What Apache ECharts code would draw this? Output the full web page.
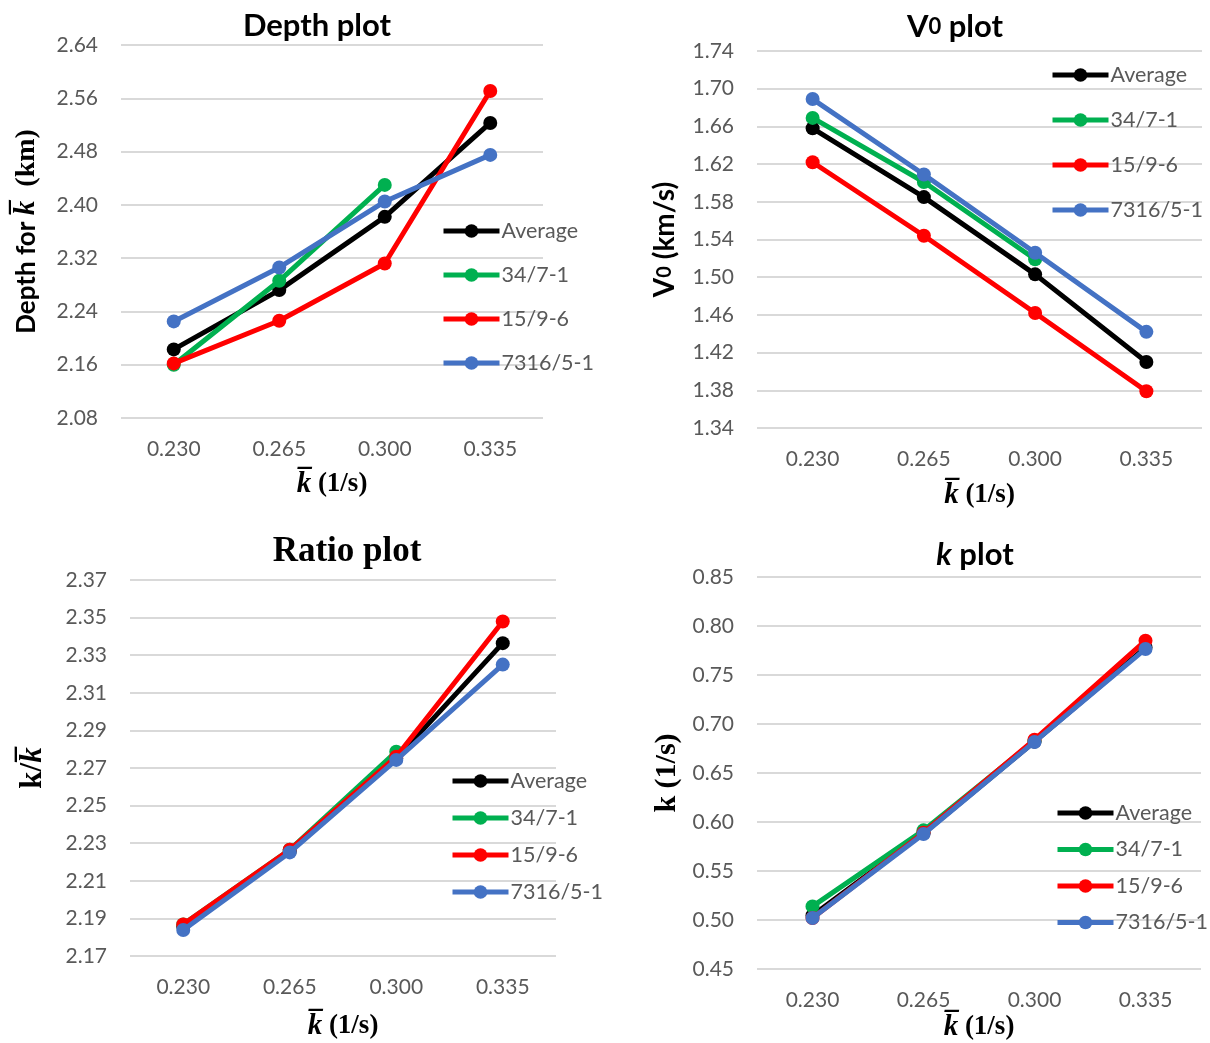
<!DOCTYPE html>
<html>
<head>
<meta charset="utf-8">
<script src="https://cdn.jsdelivr.net/npm/echarts@6/dist/echarts.min.js"></script>
<style>html,body{margin:0;padding:0;background:#fff}#c{width:1210px;height:1043px}</style>
</head>
<body>
<div id="c"></div>
<script>
const categories = ['0.230', '0.265', '0.300', '0.335'];
const seriesNames = ['Average', '34/7-1', '15/9-6', '7316/5-1'];
const seriesColors = ['#000000', '#00B050', '#FF0000', '#4472C4'];

const depthAverage = [2.183, 2.272, 2.382, 2.523];
const depth347 = [2.160, 2.286, 2.430, null];
const depth1596 = [2.162, 2.226, 2.312, 2.571];
const depth7316 = [2.225, 2.306, 2.405, 2.475];

const v0Average = [1.658, 1.585, 1.503, 1.410];
const v0347 = [1.669, 1.601, 1.519, null];
const v01596 = [1.622, 1.544, 1.462, 1.379];
const v07316 = [1.689, 1.609, 1.526, 1.442];

const ratioAverage = [2.1856, 2.2257, 2.2750, 2.3364];
const ratio347 = [2.1868, 2.2265, 2.2787, null];
const ratio1596 = [2.1868, 2.2265, 2.2760, 2.3479];
const ratio7316 = [2.1838, 2.2251, 2.2743, 2.3250];

const kAverage = [0.5047, 0.5885, 0.6820, 0.7780];
const k347 = [0.5139, 0.5915, 0.6830, null];
const k1596 = [0.5020, 0.5890, 0.6840, 0.7850];
const k7316 = [0.5020, 0.5878, 0.6817, 0.7766];

const depthTicks = {min: 2.08, max: 2.64, interval: 0.08};
const v0Ticks = {min: 1.34, max: 1.74, interval: 0.04};
const ratioTicks = {min: 2.17, max: 2.37, interval: 0.02};
const kTicks = {min: 0.45, max: 0.85, interval: 0.05};

const panels = [
  {data: [depthAverage, depth347, depth1596, depth7316], ticks: depthTicks,
   grid: {left: 121, top: 45, width: 422, height: 373}, legend: {left: 441, top: 220, itemGap: 22}},
  {data: [v0Average, v0347, v01596, v07316], ticks: v0Ticks,
   grid: {left: 757, top: 51, width: 445, height: 377}, legend: {left: 1050, top: 64, itemGap: 23}},
  {data: [ratioAverage, ratio347, ratio1596, ratio7316], ticks: ratioTicks,
   grid: {left: 130, top: 580, width: 426, height: 376}, legend: {left: 450, top: 770, itemGap: 15}},
  {data: [kAverage, k347, k1596, k7316], ticks: kTicks,
   grid: {left: 757, top: 577, width: 444, height: 393}, legend: {left: 1055, top: 802, itemGap: 14.5}}
];

const SANS = 'Lato, "Open Sans", sans-serif';
const SERIF = '"Liberation Serif", "DejaVu Serif", serif';
const KBAR = 'k\u0305';

const xNameRich = {
  k: {fontFamily: SERIF, fontWeight: 'bold', fontStyle: 'italic', fontSize: 29, color: '#000'},
  t: {fontFamily: SERIF, fontWeight: 'bold', fontSize: 27, color: '#000'}
};
const xName = '{k|' + KBAR + '}{t| (1/s)}';

const yNames = [
  {text: '{a|Depth for }{k|' + KBAR + '}{t|  (km)}', gap: 80, rich: {
    a: {fontFamily: SANS, fontWeight: 'bold', fontSize: 26, color: '#000'},
    k: {fontFamily: SERIF, fontWeight: 'bold', fontStyle: 'italic', fontSize: 29, color: '#000'},
    t: {fontFamily: SERIF, fontWeight: 'bold', fontSize: 28, color: '#000'}}},
  {text: '{a|V}{s|0}{a| (km/s)}', gap: 78, rich: {
    a: {fontFamily: SANS, fontWeight: 'bold', fontSize: 28, color: '#000'},
    s: {fontFamily: SANS, fontWeight: 'bold', fontSize: 20, color: '#000'}}},
  {text: '{t|k/}{k|' + KBAR + '}', gap: 82, rich: {
    t: {fontFamily: SERIF, fontWeight: 'bold', fontSize: 31, color: '#000'},
    k: {fontFamily: SERIF, fontWeight: 'bold', fontStyle: 'italic', fontSize: 31, color: '#000'}}},
  {text: '{t|k (1/s)}', gap: 75, rich: {
    t: {fontFamily: SERIF, fontWeight: 'bold', fontSize: 30, color: '#000'}}}
];
const xNameGaps = [52, 53, 56, 44];

const titles = [
  {text: 'Depth plot', left: 317, top: 10, textStyle: {fontFamily: SANS, fontWeight: 'bold', fontSize: 31, color: '#000'}},
  {text: '{a|V}{s|0}{a| plot}', left: 955, top: 11, textStyle: {rich: {
    a: {fontFamily: SANS, fontWeight: 'bold', fontSize: 31, color: '#000'},
    s: {fontFamily: SANS, fontWeight: 'bold', fontSize: 22, color: '#000'}}}},
  {text: 'Ratio plot', left: 347, top: 534, textStyle: {fontFamily: SERIF, fontWeight: 'bold', fontSize: 35, color: '#000'}},
  {text: '{i|k}{a| plot}', left: 975, top: 539, textStyle: {rich: {
    i: {fontFamily: SANS, fontWeight: 'bold', fontStyle: 'italic', fontSize: 31, color: '#000'},
    a: {fontFamily: SANS, fontWeight: 'bold', fontSize: 31, color: '#000'}}}}
];

const option = {
  animation: false,
  backgroundColor: '#ffffff',
  title: titles.map(t => Object.assign({textAlign: 'center', padding: 0}, t)),
  grid: panels.map(p => Object.assign({containLabel: false}, p.grid)),
  legend: panels.map(p => ({
    left: p.legend.left, top: p.legend.top, orient: 'vertical', itemGap: p.legend.itemGap,
    itemWidth: 56, itemHeight: 17, padding: 0,
    lineStyle: {width: 5},
    textStyle: {fontFamily: SANS, fontSize: 21.5, color: '#595959', padding: [0, 0, 0, -3]},
    data: seriesNames
  })),
  xAxis: panels.map((p, i) => ({
    type: 'category', gridIndex: i, data: categories, boundaryGap: true,
    axisLine: {show: false}, axisTick: {show: false},
    axisLabel: {fontFamily: SANS, fontSize: 21, color: '#595959', margin: 21},
    name: xName, nameLocation: 'middle', nameGap: xNameGaps[i],
    nameTextStyle: {rich: xNameRich}
  })),
  yAxis: panels.map((p, i) => ({
    type: 'value', gridIndex: i, min: p.ticks.min, max: p.ticks.max, interval: p.ticks.interval,
    axisLine: {show: false}, axisTick: {show: false},
    splitLine: {lineStyle: {color: '#D9D9D9', width: 2}},
    axisLabel: {fontFamily: SANS, fontSize: 21, color: '#595959', margin: 23,
      formatter: v => v.toFixed(2)},
    name: yNames[i].text, nameLocation: 'middle', nameGap: yNames[i].gap, nameRotate: 90,
    nameTextStyle: {rich: yNames[i].rich}
  })),
  series: []
};

panels.forEach((p, i) => {
  p.data.forEach((vals, j) => {
    option.series.push({
      type: 'line', name: seriesNames[j], xAxisIndex: i, yAxisIndex: i,
      data: vals, symbol: 'circle', symbolSize: 14, showSymbol: true,
      connectNulls: false,
      color: seriesColors[j],
      lineStyle: {width: 5, color: seriesColors[j]},
      itemStyle: {color: seriesColors[j]},
      z: 2 + j
    });
  });
});

const chart = echarts.init(document.getElementById('c'), null, {renderer: 'canvas'});
chart.setOption(option);
</script>
</body>
</html>
